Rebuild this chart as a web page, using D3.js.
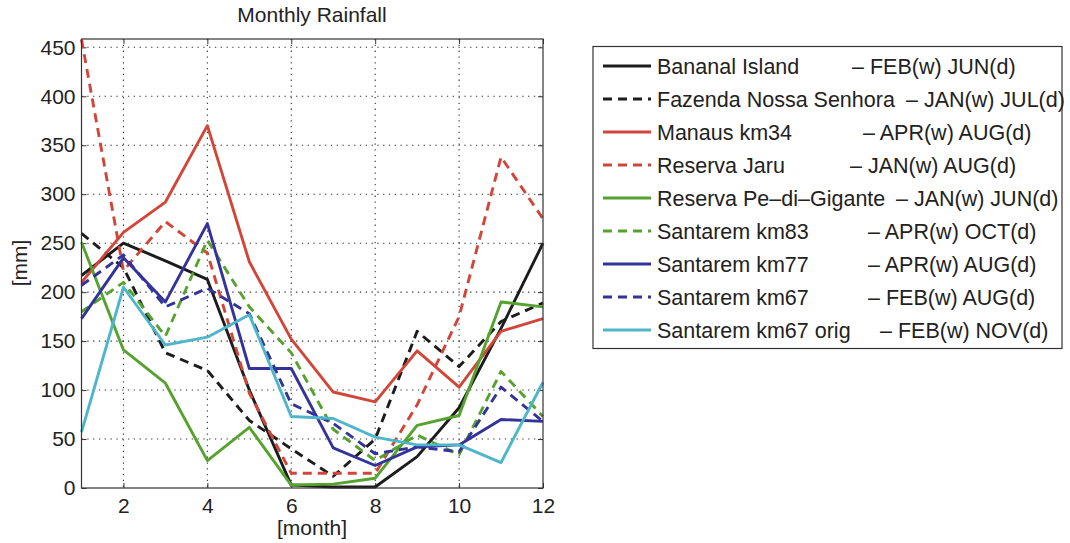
<html>
<head>
<title>Monthly Rainfall</title>
<script src="https://d3js.org/d3.v7.min.js"></script>
<style>
body { margin: 0; background: #fff; font-family: 'Liberation Sans', Arial, sans-serif; }
svg { display: block; }
.grid line { stroke: #333; stroke-width: 1.1; stroke-dasharray: 1.3,4.5; }
.axis text { font-size: 21px; fill: #222; }
.axis line { stroke: #333; }
.axis path { display: none; }
.series { fill: none; stroke-width: 2.9; stroke-linejoin: round; }
.legend text { font-size: 21.5px; fill: #222; }
</style>
</head>

<body>
<svg width="1070" height="543"></svg>

<script>

// ---- data ----
var months = [1, 2, 3, 4, 5, 6, 7, 8, 9, 10, 11, 12];

var bananalIsland   = [217, 250, 232, 213, 100, 3, 1, 1, 32, 82, 163, 250];
var fazendaNossa    = [260, 225, 138, 120, 69, 40, 12, 50, 160, 124, 170, 189];
var manausKm34      = [210, 261, 292, 370, 231, 152, 98, 88, 140, 103, 160, 173];
var reservaJaru     = [458, 222, 272, 240, 97, 15, 15, 15, 85, 175, 338, 275];
var pediGigante     = [251, 141, 107, 28, 62, 3, 4, 10, 64, 74, 190, 185];
var santaremKm83    = [180, 210, 155, 253, 185, 138, 60, 28, 54, 34, 119, 73];
var santaremKm77    = [173, 235, 190, 270, 122, 122, 41, 23, 42, 44, 70, 68];
var santaremKm67    = [207, 238, 185, 204, 178, 86, 66, 35, 42, 37, 103, 68];
var santaremKm67o   = [57, 205, 146, 154, 177, 73, 71, 52, 44, 44, 26, 108];

var seriesNames = ["Bananal Island", "Fazenda Nossa Senhora", "Manaus km34", "Reserva Jaru",
  "Reserva Pe\u2013di\u2013Gigante", "Santarem km83", "Santarem km77", "Santarem km67", "Santarem km67 orig"];
var seasonTags = ["\u2013 FEB(w) JUN(d)", "\u2013 JAN(w) JUL(d)", "\u2013 APR(w) AUG(d)", "\u2013 JAN(w) AUG(d)",
  "\u2013 JAN(w) JUN(d)", "\u2013 APR(w) OCT(d)", "\u2013 APR(w) AUG(d)", "\u2013 FEB(w) AUG(d)", "\u2013 FEB(w) NOV(d)"];
var seriesValues = [bananalIsland, fazendaNossa, manausKm34, reservaJaru, pediGigante,
  santaremKm83, santaremKm77, santaremKm67, santaremKm67o];

var xTicks = [2, 4, 6, 8, 10, 12];
var yTicks = [0, 50, 100, 150, 200, 250, 300, 350, 400, 450];

// ---- styles / layout ----
var colors = ["#1c1c1c", "#1c1c1c", "#d2463a", "#d2463a", "#55a22e", "#55a22e", "#33339a", "#33339a", "#4fb6ca"];
var dashed = [false, true, false, true, false, true, false, true, false];
var tagX = [852, 906, 863, 850, 896, 868, 868, 868, 880];

var svg = d3.select("svg");
var pLeft = 81.5, pRight = 543, pTop = 39, pBottom = 488;

var x = d3.scaleLinear().domain([1, 12]).range([pLeft, pRight]);
var y = d3.scaleLinear().domain([0, 458.5]).range([pBottom, pTop]);

// grid
var grid = svg.append("g").attr("class", "grid");
grid.selectAll("line.v").data(xTicks.filter(function (d) { return d < 12; })).enter().append("line")
  .attr("x1", function (d) { return x(d); }).attr("x2", function (d) { return x(d); })
  .attr("y1", pTop).attr("y2", pBottom);
grid.selectAll("line.h").data(yTicks.filter(function (d) { return d > 0; })).enter().append("line")
  .attr("x1", pLeft).attr("x2", pRight)
  .attr("y1", function (d) { return y(d); }).attr("y2", function (d) { return y(d); });

// axes (matlab style: ticks inside on all four sides)
svg.append("g").attr("class", "axis").attr("transform", "translate(0," + pBottom + ")")
  .call(d3.axisBottom(x).tickValues(xTicks).tickSize(-5).tickPadding(10));
svg.append("g").attr("class", "axis").attr("transform", "translate(0," + pTop + ")")
  .call(d3.axisTop(x).tickValues(xTicks).tickSize(-5).tickFormat(""));
svg.append("g").attr("class", "axis").attr("transform", "translate(" + pLeft + ",0)")
  .call(d3.axisLeft(y).tickValues(yTicks).tickSize(-5).tickPadding(6));
svg.append("g").attr("class", "axis").attr("transform", "translate(" + pRight + ",0)")
  .call(d3.axisRight(y).tickValues(yTicks).tickSize(-5).tickFormat(""));

// lines
var line = d3.line()
  .x(function (d, i) { return x(months[i]); })
  .y(function (d) { return y(d); });

svg.selectAll("path.series").data(seriesValues).enter().append("path")
  .attr("class", "series")
  .attr("d", line)
  .attr("stroke", function (d, i) { return colors[i]; })
  .attr("stroke-dasharray", function (d, i) { return dashed[i] ? "9,6" : null; });

// frame
svg.append("rect").attr("x", pLeft).attr("y", pTop)
  .attr("width", pRight - pLeft).attr("height", pBottom - pTop)
  .attr("fill", "none").attr("stroke", "#333").attr("stroke-width", 1.2);

// titles
svg.append("text").attr("x", 312).attr("y", 22).attr("text-anchor", "middle")
  .style("font-size", "21px").style("fill", "#222").text("Monthly Rainfall");
svg.append("text").attr("x", 312).attr("y", 535).attr("text-anchor", "middle")
  .style("font-size", "21px").style("fill", "#222").text("[month]");
svg.append("text").attr("transform", "translate(27,263) rotate(-90)").attr("text-anchor", "middle")
  .style("font-size", "21px").style("fill", "#222").text("[mm]");

// legend
var legend = svg.append("g").attr("class", "legend");
legend.append("rect").attr("x", 593).attr("y", 46.5).attr("width", 469).attr("height", 302)
  .attr("fill", "#fff").attr("stroke", "#333").attr("stroke-width", 1.2);

var items = legend.selectAll("g.item").data(seriesNames).enter().append("g")
  .attr("class", "item")
  .attr("transform", function (d, i) { return "translate(0," + (66 + i * 33) + ")"; });

items.append("line").attr("x1", 603).attr("x2", 651).attr("y1", 0).attr("y2", 0)
  .attr("stroke", function (d, i) { return colors[i]; })
  .attr("stroke-width", 2.9)
  .attr("stroke-dasharray", function (d, i) { return dashed[i] ? "9,6" : null; });
items.append("text").attr("x", 657).attr("y", 7.5).text(function (d) { return d; });
items.append("text").attr("x", function (d, i) { return tagX[i]; }).attr("y", 7.5)
  .text(function (d, i) { return seasonTags[i]; });

</script>
</body>
</html>
